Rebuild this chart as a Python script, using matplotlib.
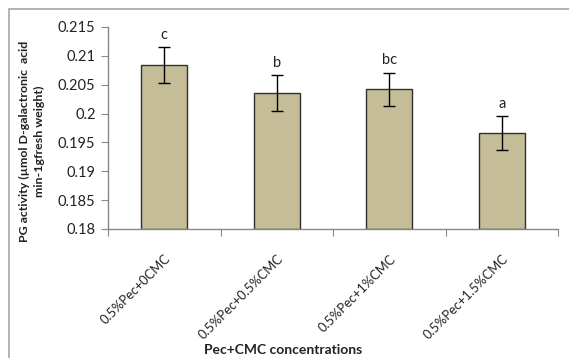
import numpy as np
import matplotlib.pyplot as plt
from matplotlib.patches import Rectangle

plt.rcParams['font.family'] = ['Lato', 'DejaVu Sans']

# data
categories = ['0.5%Pec+0CMC', '0.5%Pec+0.5%CMC', '0.5%Pec+1%CMC', '0.5%Pec+1.5%CMC']
values = [0.2084, 0.2035, 0.2042, 0.1966]
errors = [0.0031, 0.0031, 0.0029, 0.0029]
letters = ['c', 'b', 'bc', 'a']
yticks = [0.18, 0.185, 0.19, 0.195, 0.2, 0.205, 0.21, 0.215]

W, H = 569, 358
fig = plt.figure(figsize=(W / 100, H / 100), dpi=100)
ax = fig.add_axes([108 / W, 1 - 229 / H, 450 / W, 202 / H])

# outer chart border (cut by the image edge on right and bottom)
fig.patches.append(Rectangle((9 / W, -0.1), 1.2, 1 - 9 / H + 0.1, transform=fig.transFigure,
                             fill=False, edgecolor='#a6a6a6', linewidth=1.2))

x = np.arange(len(categories))
ax.bar(x, np.array(values) - 0.18, bottom=0.18, width=0.41, color='#c4bd97',
       edgecolor='#303030', linewidth=1.0, zorder=2)
ax.errorbar(x, values, yerr=errors, fmt='none', ecolor='black', elinewidth=1.0,
            capsize=4, capthick=1.0, zorder=3)
for xi, v, e, t in zip(x, values, errors, letters):
    ax.annotate(t, (xi, v + e), xytext=(0, 4), textcoords='offset points',
                ha='center', va='bottom', fontsize=10.5, color='#222222')

ax.set_xlim(-0.5, len(categories) - 0.5)
ax.set_ylim(0.18, 0.215)
ax.set_yticks(yticks)
ax.set_yticklabels([f'{v:g}' for v in yticks])
ax.set_xticks(np.arange(-0.5, len(categories)), minor=False)
ax.set_xticklabels([])
ax.set_xticks(x, minor=True)
ax.set_xticklabels(categories, minor=True, rotation=45, ha='right',
                   rotation_mode='anchor', fontsize=9.3, color='#222222')
ax.tick_params(axis='x', which='minor', length=0, pad=17)
ax.tick_params(axis='x', which='major', length=5, color='#888888', direction='out')
ax.tick_params(axis='y', length=5, color='#888888', direction='out', labelsize=10.5,
               labelcolor='#222222', pad=4)

for s in ['top', 'right']:
    ax.spines[s].set_visible(False)
for s in ['left', 'bottom']:
    ax.spines[s].set_color('#888888')
    ax.spines[s].set_linewidth(1.0)

fig.text(32 / W, 1 - 141 / H, 'PG activity (\u00b5mol D-galactronic  acid\nmin-1gfresh weight)',
         rotation=90, ha='center', va='center', fontsize=8.9, fontweight='bold',
         color='#222222', linespacing=1.45)
fig.text(283 / W, 1 - 350 / H, 'Pec+CMC concentrations', ha='center', va='center',
         fontsize=10, fontweight='bold', color='#222222')

fig.savefig('out.png', dpi=100)
